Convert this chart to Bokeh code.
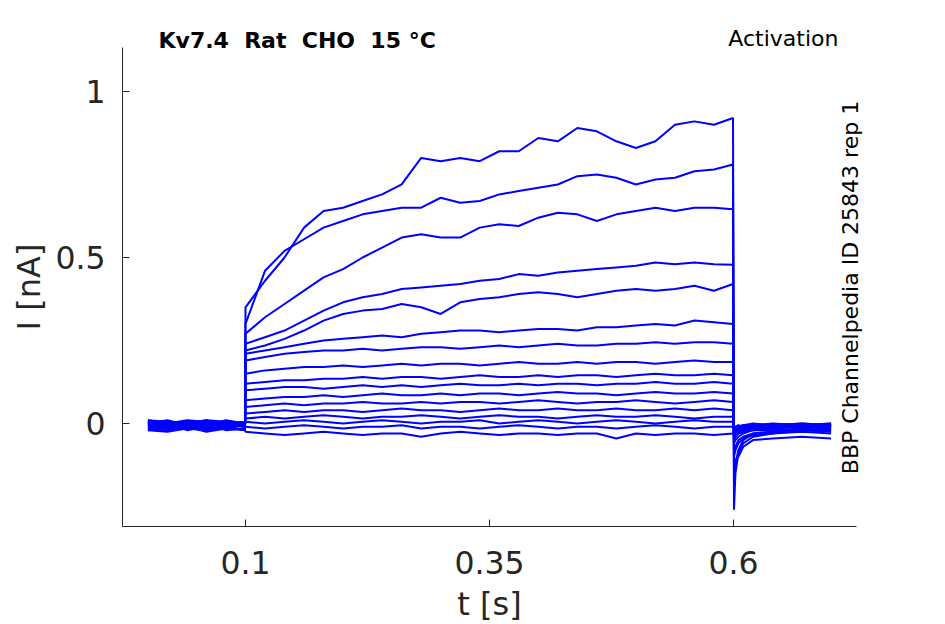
import math

from bokeh.plotting import figure
from bokeh.models import FixedTicker, Label
from bokeh.embed import file_html
from bokeh.resources import INLINE

# time samples [s]: holding before the step, during the step, after the step
base_t = [0.0, 0.02, 0.04, 0.06, 0.08, 0.0995]
step_t = [0.10, 0.12, 0.14, 0.16, 0.18, 0.20, 0.22, 0.24, 0.26, 0.28, 0.30, 0.32, 0.34,
          0.36, 0.38, 0.40, 0.42, 0.44, 0.46, 0.48, 0.50, 0.52, 0.54, 0.56, 0.58, 0.5995]
tail_t = [0.6005, 0.602, 0.605, 0.61, 0.62, 0.64, 0.67, 0.70]

# current [nA], one row per sweep
base_i = [
    [0.005, -0.010, 0.000, -0.005, 0.010, 0.000],
    [-0.005, 0.005, -0.010, 0.000, -0.005, 0.005],
    [0.010, 0.000, 0.005, -0.010, 0.000, -0.005],
    [-0.010, -0.005, 0.000, 0.005, -0.010, 0.000],
    [0.000, 0.010, -0.005, 0.000, 0.005, -0.010],
    [-0.015, -0.005, -0.010, -0.020, -0.005, -0.010],
    [0.005, 0.000, 0.010, 0.005, 0.000, 0.005],
    [-0.020, -0.010, -0.015, -0.005, -0.020, -0.015],
    [0.000, -0.005, 0.005, 0.000, -0.010, 0.000],
    [0.010, 0.005, 0.000, 0.010, 0.005, 0.000],
    [-0.005, -0.015, -0.010, -0.005, 0.000, -0.010],
    [0.000, 0.005, -0.005, -0.015, -0.005, 0.005],
    [-0.020, -0.025, -0.015, -0.020, -0.010, -0.020],
    [0.005, -0.005, 0.000, 0.010, -0.005, 0.000],
    [-0.010, 0.000, -0.020, -0.010, -0.015, -0.005],
    [0.000, -0.010, 0.005, -0.005, 0.000, -0.010],
    [-0.015, -0.020, -0.010, -0.025, -0.015, -0.020],
]
step_i = [
    [0.35, 0.43, 0.50, 0.59, 0.64, 0.65, 0.67, 0.69, 0.72, 0.80, 0.79, 0.80, 0.79,
     0.82, 0.82, 0.86, 0.85, 0.89, 0.88, 0.85, 0.83, 0.85, 0.90, 0.91, 0.90, 0.92],
    [0.30, 0.46, 0.52, 0.555, 0.59, 0.61, 0.63, 0.64, 0.65, 0.65, 0.68, 0.665, 0.67,
     0.69, 0.70, 0.71, 0.72, 0.745, 0.75, 0.74, 0.72, 0.735, 0.74, 0.76, 0.765, 0.78],
    [0.27, 0.32, 0.36, 0.40, 0.44, 0.465, 0.50, 0.53, 0.56, 0.57, 0.56, 0.56, 0.59,
     0.60, 0.595, 0.62, 0.635, 0.63, 0.61, 0.63, 0.64, 0.65, 0.64, 0.65, 0.65, 0.645],
    [0.24, 0.26, 0.28, 0.31, 0.34, 0.365, 0.38, 0.39, 0.405, 0.41, 0.415, 0.42, 0.43,
     0.435, 0.45, 0.445, 0.455, 0.46, 0.465, 0.47, 0.475, 0.485, 0.48, 0.485, 0.48, 0.478],
    [0.22, 0.235, 0.255, 0.28, 0.31, 0.33, 0.34, 0.345, 0.36, 0.35, 0.33, 0.365, 0.375,
     0.38, 0.39, 0.395, 0.39, 0.38, 0.39, 0.40, 0.405, 0.40, 0.405, 0.415, 0.40, 0.42],
    [0.21, 0.22, 0.23, 0.24, 0.25, 0.255, 0.26, 0.265, 0.26, 0.27, 0.275, 0.28, 0.28,
     0.275, 0.28, 0.285, 0.285, 0.28, 0.29, 0.29, 0.295, 0.30, 0.295, 0.31, 0.305, 0.30],
    [0.19, 0.20, 0.21, 0.215, 0.22, 0.22, 0.225, 0.22, 0.225, 0.23, 0.23, 0.225, 0.23,
     0.235, 0.23, 0.235, 0.24, 0.235, 0.235, 0.24, 0.24, 0.245, 0.24, 0.245, 0.245, 0.24],
    [0.15, 0.16, 0.165, 0.17, 0.17, 0.175, 0.17, 0.175, 0.18, 0.175, 0.18, 0.18, 0.175,
     0.18, 0.185, 0.18, 0.18, 0.185, 0.18, 0.185, 0.185, 0.18, 0.185, 0.19, 0.185, 0.185],
    [0.12, 0.125, 0.13, 0.13, 0.135, 0.135, 0.14, 0.135, 0.14, 0.14, 0.135, 0.14, 0.145,
     0.14, 0.14, 0.145, 0.14, 0.145, 0.145, 0.14, 0.145, 0.15, 0.145, 0.145, 0.15, 0.145],
    [0.10, 0.105, 0.11, 0.11, 0.105, 0.11, 0.115, 0.11, 0.115, 0.11, 0.115, 0.12, 0.115,
     0.115, 0.12, 0.115, 0.12, 0.12, 0.115, 0.12, 0.12, 0.125, 0.12, 0.12, 0.125, 0.12],
    [0.07, 0.075, 0.08, 0.08, 0.085, 0.08, 0.085, 0.09, 0.085, 0.085, 0.09, 0.085, 0.09,
     0.09, 0.085, 0.09, 0.095, 0.09, 0.09, 0.085, 0.09, 0.095, 0.09, 0.09, 0.095, 0.09],
    [0.05, 0.055, 0.06, 0.055, 0.06, 0.06, 0.065, 0.06, 0.06, 0.065, 0.06, 0.065, 0.065,
     0.06, 0.065, 0.07, 0.065, 0.06, 0.065, 0.065, 0.07, 0.065, 0.06, 0.065, 0.07, 0.065],
    [0.03, 0.035, 0.04, 0.035, 0.04, 0.04, 0.035, 0.04, 0.045, 0.04, 0.04, 0.035, 0.04,
     0.045, 0.04, 0.04, 0.045, 0.04, 0.04, 0.045, 0.04, 0.04, 0.045, 0.04, 0.045, 0.04],
    [0.015, 0.02, 0.015, 0.02, 0.025, 0.02, 0.015, 0.02, 0.02, 0.025, 0.02, 0.015, 0.02,
     0.025, 0.02, 0.02, 0.015, 0.02, 0.025, 0.02, 0.02, 0.025, 0.02, 0.015, 0.02, 0.02],
    [0.005, 0.0, 0.005, 0.01, 0.005, 0.0, 0.005, 0.01, 0.005, 0.0, 0.005, 0.005, 0.01,
     0.0, 0.005, 0.01, 0.005, 0.0, 0.005, 0.01, 0.005, 0.0, 0.005, 0.01, 0.005, 0.005],
    [-0.01, -0.015, -0.01, -0.005, -0.01, -0.015, -0.01, -0.01, -0.005, -0.015, -0.01, -0.01, -0.015,
     -0.01, -0.005, -0.01, -0.015, -0.01, -0.01, -0.015, -0.01, -0.005, -0.01, -0.015, -0.01, -0.01],
    [-0.025, -0.03, -0.035, -0.03, -0.025, -0.03, -0.035, -0.03, -0.03, -0.04, -0.03, -0.025, -0.03,
     -0.035, -0.03, -0.03, -0.035, -0.03, -0.03, -0.045, -0.03, -0.035, -0.03, -0.03, -0.035, -0.03],
]
tail_i = [
    [-0.26, -0.15, -0.09, -0.06, -0.04, -0.03, -0.02, -0.025],
    [-0.18, -0.12, -0.08, -0.05, -0.03, -0.025, -0.02, -0.02],
    [-0.14, -0.11, -0.10, -0.07, -0.05, -0.045, -0.04, -0.045],
    [-0.10, -0.08, -0.06, -0.045, -0.035, -0.03, -0.025, -0.03],
    [-0.08, -0.07, -0.05, -0.04, -0.03, -0.025, -0.02, -0.015],
    [-0.06, -0.05, -0.04, -0.03, -0.02, -0.02, -0.015, -0.02],
    [-0.05, -0.04, -0.03, -0.025, -0.02, -0.015, -0.01, -0.015],
    [-0.04, -0.035, -0.03, -0.02, -0.015, -0.01, -0.01, -0.005],
    [-0.035, -0.03, -0.025, -0.02, -0.01, -0.015, -0.005, -0.01],
    [-0.03, -0.025, -0.02, -0.015, -0.01, -0.005, -0.01, -0.005],
    [-0.03, -0.02, -0.015, -0.01, -0.015, -0.01, -0.005, -0.01],
    [-0.025, -0.02, -0.015, -0.01, -0.005, -0.01, -0.005, 0.0],
    [-0.02, -0.015, -0.01, -0.015, -0.01, -0.005, -0.01, -0.005],
    [-0.02, -0.015, -0.01, -0.005, -0.01, -0.005, 0.0, -0.005],
    [-0.015, -0.01, -0.005, -0.01, -0.005, 0.0, -0.005, 0.0],
    [-0.015, -0.01, -0.01, -0.005, 0.0, -0.005, 0.0, -0.005],
    [-0.02, -0.015, -0.01, -0.01, -0.005, -0.01, -0.005, -0.01],
]

x_ticks = [0.1, 0.35, 0.6]
y_ticks = [0, 0.5, 1]

ink = "#262626"

# axes box of the original plot, in data units
x_lo, x_hi = -0.026, 0.726
y_lo, y_hi = -0.310, 1.1325

# the frame spans the whole canvas so the texts around the axes are not clipped;
# the axes sit at fixed places inside it
p = figure(title=None, frame_width=940, frame_height=622,
           x_range=(-0.15102, 0.81209), y_range=(-0.59940, 1.27410),
           output_backend="svg", toolbar_location=None, min_border=0)
p.outline_line_color = None
p.grid.grid_line_color = None
p.background_fill_color = "white"
p.border_fill_color = "white"

t_all = base_t + step_t + tail_t
for b, s, tl in zip(base_i, step_i, tail_i):
    p.line(t_all, b + s + tl, line_color="#0000ff", line_width=2)

for ax in (p.xaxis[0], p.yaxis[0]):
    ax.axis_line_color = ink
    ax.major_tick_line_color = ink
    ax.major_tick_in = 7
    ax.major_tick_out = 0
    ax.minor_tick_line_color = None
    ax.major_label_text_font = "DejaVu Sans"
    ax.major_label_text_font_size = "31.5px"
    ax.major_label_text_color = ink
    ax.axis_label_text_font = "DejaVu Sans"
    ax.axis_label_text_font_size = "32px"
    ax.axis_label_text_font_style = "normal"
    ax.axis_label_text_color = ink

p.xaxis.fixed_location = y_lo
p.xaxis.bounds = (x_lo, x_hi)
p.xaxis.ticker = FixedTicker(ticks=x_ticks)
p.xaxis.major_label_overrides = {0.1: "0.1", 0.35: "0.35", 0.6: "0.6"}
p.xaxis.major_label_standoff = 25
p.xaxis.axis_label = "t [s]"
p.xaxis.axis_label_standoff = 7

p.yaxis.fixed_location = x_lo
p.yaxis.bounds = (y_lo, y_hi)
p.yaxis.ticker = FixedTicker(ticks=y_ticks)
p.yaxis.major_label_overrides = {0: "0", 0.5: "0.5", 1: "1"}
p.yaxis.major_label_standoff = 17
p.yaxis.axis_label = "I [nA]"
p.yaxis.axis_label_standoff = 4

# double gaps in the heading kept with no-break spaces
p.add_layout(Label(x=0.01086, y=1.15361, text="Kv7.4\u00a0 Rat\u00a0 CHO\u00a0 15 °C",
                   text_font="DejaVu Sans", text_font_size="22px", text_font_style="bold",
                   text_color="black", text_baseline="middle"))
p.add_layout(Label(x=0.70758, y=1.15964, text="Activation", text_font="DejaVu Sans",
                   text_font_size="22px", text_color="black", text_align="right",
                   text_baseline="middle"))
p.add_layout(Label(x=0.71988, y=0.40964, text="BBP Channelpedia ID 25843 rep 1", text_font="DejaVu Sans",
                   text_font_size="22px", text_color="black", angle=math.pi / 2,
                   text_align="center", text_baseline="middle"))

open("out.html", "w").write(file_html(p, INLINE))
